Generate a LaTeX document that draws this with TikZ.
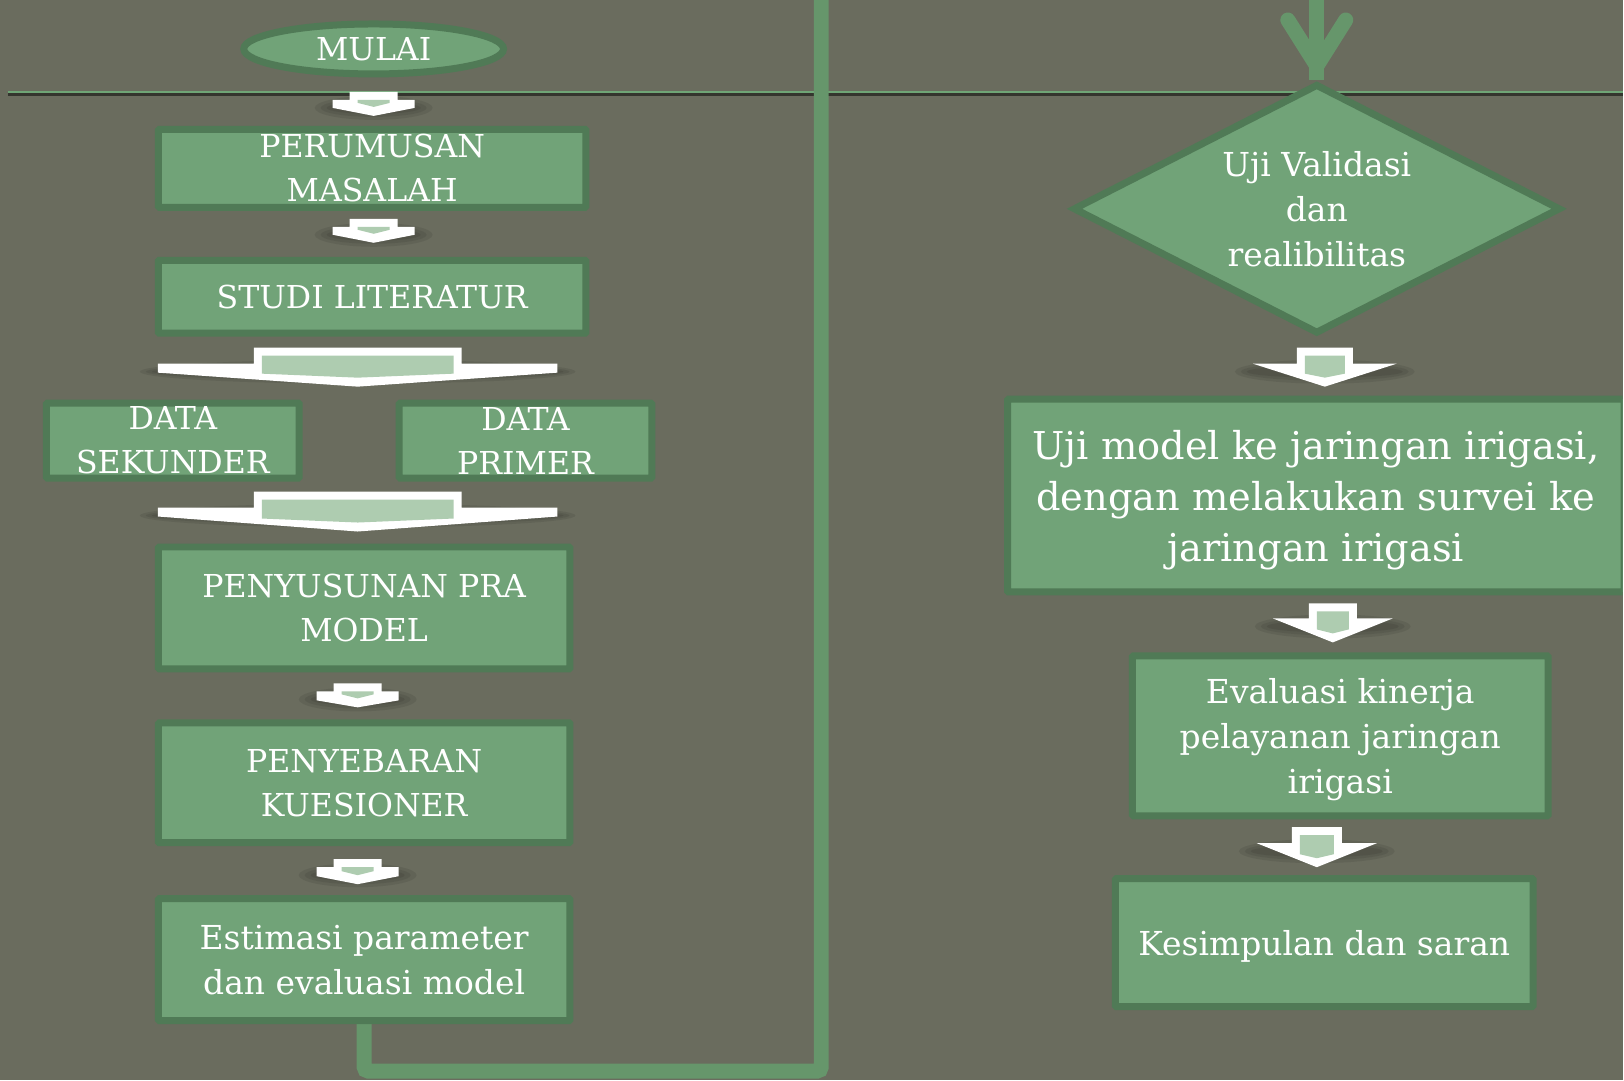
\documentclass[tikz,border=0pt]{standalone}
\usepackage{fontspec}
\setmainfont{DejaVu Serif}
\usetikzlibrary{shapes.geometric}

\definecolor{slide}{HTML}{6A6C5E}
\definecolor{boxfill}{HTML}{71A378}
\definecolor{boxline}{HTML}{507A56}
\definecolor{linkgreen}{HTML}{66966B}
\definecolor{palegreen}{HTML}{AECCB0}
\definecolor{rulegreen}{HTML}{6FA576}

\pgfdeclarelayer{bg}
\pgfdeclarelayer{links}
\pgfsetlayers{bg,links,main}

\tikzset{
  procbox/.style={draw=boxline, fill=boxfill, line width=3.5pt, text=white,
    inner sep=0pt, align=center, rounded corners=0.5pt},
  startnode/.style={ellipse, draw=boxline, fill=boxfill, line width=3.5pt,
    text=white, inner sep=0pt},
  checknode/.style={diamond, draw=boxline, fill=boxfill, line width=3.5pt,
    inner sep=0pt},
  flowlink/.style={draw=linkgreen, line width=7.5pt},
  capstext/.style={font=\fontsize{15.8}{22}\selectfont},
  plaintext/.style={font=\fontsize{16.5}{22.5}\selectfont},
}

\begin{document}
\begin{tikzpicture}[x=0.5pt, y=-0.5pt]

    \begin{pgfonlayer}{bg}
      \fill[slide] (0,0) rectangle (1624,1081);
          % slide rule under the title
      \draw[black, opacity=0.5, line width=1.5pt] (8,95) -- (1624,95);
      \draw[rulegreen, line width=1.25pt] (8,92) -- (1624,92);
    \end{pgfonlayer}
    \useasboundingbox (0,0) rectangle (1624,1081);
    \clip (0,0) rectangle (1624,1081);

    % left column
    \node[startnode, capstext, minimum width=130pt, minimum height=25pt] (mulai) at (374,49) {MULAI};
    \node[procbox, capstext, minimum width=214pt, minimum height=39pt] (rumus) at (372.5,168.5) {PERUMUSAN\\MASALAH};
    \node[procbox, capstext, minimum width=214pt, minimum height=36.5pt] (studi) at (372.5,297) {STUDI LITERATUR};
    \node[procbox, capstext, minimum width=126.5pt, minimum height=37.5pt] (sekunder) at (173,441) {DATA\\SEKUNDER};
    \node[procbox, capstext, minimum width=126.5pt, minimum height=37.5pt] (primer) at (526,441) {DATA\\PRIMER};
    \node[procbox, capstext, minimum width=206pt, minimum height=61pt] (pramodel) at (364.5,608.5) {PENYUSUNAN PRA\\MODEL};
    \node[procbox, capstext, minimum width=206pt, minimum height=60pt] (sebar) at (364.5,783.5) {PENYEBARAN\\KUESIONER};
    \node[procbox, plaintext, minimum width=206pt, minimum height=61pt] (estimasi) at (364.5,960.5) {Estimasi parameter\\dan evaluasi model};

    % right column
    \node[checknode, minimum width=244pt, minimum height=125pt,
      label={[plaintext, text=white, align=center]center:{Uji Validasi\\dan\\realibilitas}}] (validasi) at (1318,209) {};
    \node[procbox, font=\fontsize{19.2}{25.5}\selectfont, text depth=0pt, minimum width=308.5pt, minimum height=96.5pt] (ujimodel) at (1317,496) {Uji model ke jaringan irigasi,\\dengan melakukan survei ke\\jaringan irigasi};
    \node[procbox, plaintext, text depth=0pt, minimum width=208pt, minimum height=80pt] (evaluasi) at (1341.5,736.5) {Evaluasi kinerja\\pelayanan jaringan\\irigasi};
    \node[procbox, plaintext, text depth=0pt, minimum width=209pt, minimum height=64pt] (simpulan) at (1325.5,943.5) {Kesimpulan dan saran};

    % link between the two halves
    \coordinate (exitL) at (822,-20);
    \coordinate (loopR) at (822,1072);
    \coordinate (entryR) at (1318,-20);
    \coordinate (vtip) at (1318,66);
    \begin{pgfonlayer}{links}
      \draw[flowlink, rounded corners=2pt] (estimasi.south) |- (loopR) -- (exitL);
      \draw[flowlink] (entryR) -- (validasi.north);
    \end{pgfonlayer}
    \draw[flowlink, line cap=round] (vtip) ++(-29,-46) -- (vtip) -- ++(29,-46);

    % block arrows: centre x / top / shaft / wing y / wing / wing side / tip
    \foreach \cx/\ty/\sw/\wy/\ww/\ws/\tp in {374/92/24/100/41/8/116, 374/219/24/227/41/8/243,
        358/348/104/364/200/9/387, 358/492/104/508/200/9/532,
        358/684/24/692/41/9/708, 358/860/24/868/41/9/885,
        1326/348/28/364/72/0/387, 1334/604/24/619/60/0/643, 1318/828/25/844/60/0/868}{
      \begin{pgfonlayer}{links}
        \foreach \k in {1,2,3}
          \fill[black, opacity=0.08] (\cx,\wy+8) ellipse [x radius=\ww+6*\k, y radius=3+3*\k];
      \end{pgfonlayer}
      \fill[white] (\cx-\sw,\ty) -- (\cx+\sw,\ty) -- (\cx+\sw,\wy) -- (\cx+\ww,\wy) -- (\cx+\ww,\wy+\ws)
        -- (\cx,\tp) -- (\cx-\ww,\wy+\ws) -- (\cx-\ww,\wy) -- (\cx-\sw,\wy) -- cycle;
      \fill[palegreen] (\cx-\sw+8,\ty+8) -- (\cx+\sw-8,\ty+8) -- (\cx+\sw-8,\tp-13) -- (\cx,\tp-9)
        -- (\cx-\sw+8,\tp-13) -- cycle;
    }

\end{tikzpicture}
\end{document}
